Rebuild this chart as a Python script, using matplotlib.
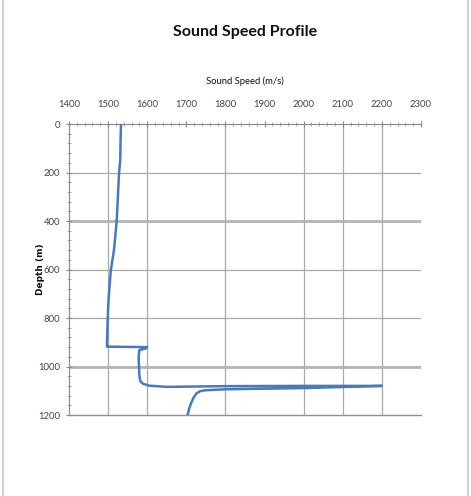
import matplotlib
matplotlib.use("Agg")
import matplotlib.pyplot as plt
from matplotlib.ticker import MultipleLocator
from matplotlib.patches import Rectangle

title = "Sound Speed Profile"
x_label = "Sound Speed (m/s)"
y_label = "Depth (m)"

speed = [1533, 1532, 1531, 1528, 1525, 1522, 1515, 1507, 1501, 1499, 1497, 1497,
         1540, 1600, 1596, 1580, 1578, 1579, 1580, 1583, 1590, 1605, 1650, 1800,
         2000, 2200, 2000, 1800, 1748, 1735, 1726, 1718, 1712, 1707, 1703]
depth = [0, 60, 148, 200, 300, 400, 520, 602, 726, 800, 911, 918,
         919, 920, 926, 932, 960, 1000, 1040, 1062, 1072, 1079, 1084, 1081,
         1080, 1080, 1089, 1094, 1098, 1102, 1111, 1130, 1152, 1175, 1200]

x_ticks = list(range(1400, 2301, 100))
y_ticks = list(range(0, 1201, 200))

plt.rcParams["font.family"] = ["Lato", "DejaVu Sans"]

fig = plt.figure(figsize=(4.71, 4.96), dpi=100)
fig.patch.set_facecolor("white")
fig.add_artist(Rectangle((0.006, -0.01), 0.988, 1.02, transform=fig.transFigure,
                         fill=False, edgecolor="#c8c8c8", linewidth=1.2))

ax = fig.add_axes([0.1465, 0.1633, 0.7473, 0.5867])
ax.set_xlim(1400, 2300)
ax.set_ylim(1200, 0)

for xv in [1500, 1600, 1800, 2000, 2100, 2200]:
    ax.axvline(xv, color="#a8a8a8", linewidth=0.9, zorder=1)
for yv in [200, 600, 800]:
    ax.axhline(yv, color="#a8a8a8", linewidth=0.9, zorder=1)
for yv in [400, 1000]:
    ax.axhline(yv, color="#b4b4b4", linewidth=2.0, zorder=1)
ax.axhline(1200, color="#909090", linewidth=1.0, zorder=1, clip_on=False)

ax.plot(speed, depth, color="#4a7bb7", linewidth=1.8, zorder=3,
        solid_joinstyle="round", solid_capstyle="round")

ax.xaxis.tick_top()
ax.xaxis.set_label_position("top")
ax.set_xticks(x_ticks)
ax.set_yticks(y_ticks)
ax.xaxis.set_minor_locator(MultipleLocator(20))
ax.yaxis.set_minor_locator(MultipleLocator(40))
ax.tick_params(axis="both", which="major", direction="inout", length=5,
               width=0.8, color="#888888", labelsize=6.8, labelcolor="#444444", pad=4)
ax.tick_params(axis="both", which="minor", direction="inout", length=3,
               width=0.6, color="#999999")
ax.tick_params(axis="x", which="major", pad=8)

for s in ["right", "bottom"]:
    ax.spines[s].set_visible(False)
for s in ["top", "left"]:
    ax.spines[s].set_color("#888888")
    ax.spines[s].set_linewidth(0.8)

ax.set_xlabel(x_label, fontsize=6.8, labelpad=12, color="#111111")
ax.set_ylabel(y_label, fontsize=6.5, fontweight="bold", labelpad=-5, color="#111111",
              family=["DejaVu Sans"])

fig.text(0.52, 0.936, title, ha="center", va="center", fontsize=11.5,
         fontweight="bold", color="#111111")

fig.savefig("out.png", dpi=100, facecolor="white")
